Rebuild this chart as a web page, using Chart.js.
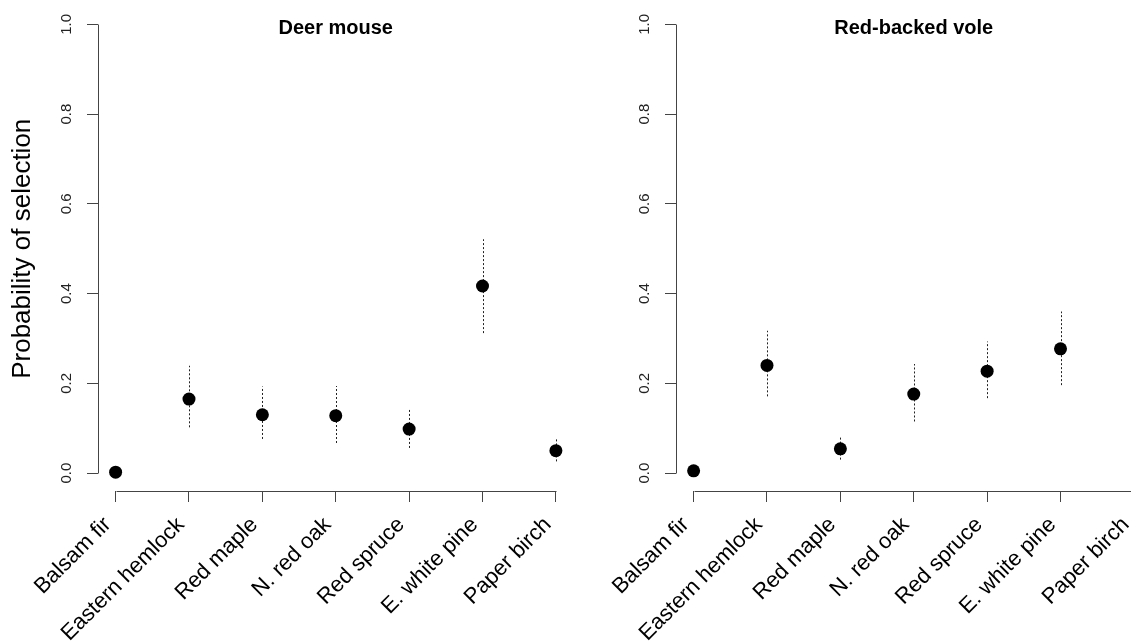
<!DOCTYPE html>
<html>
<head>
<meta charset="utf-8">
<script src="https://cdn.jsdelivr.net/npm/chart.js@4.4.1/dist/chart.umd.min.js"></script>
<style>
  body { margin: 0; background: #fff; overflow: hidden; width: 1131px; height: 642px; }
  canvas { position: absolute; top: 0; }
  #mouseChart { left: 0; }
  #voleChart { left: 578px; }
</style>
</head>
<body>
<canvas id="mouseChart" width="580" height="642"></canvas>
<canvas id="voleChart" width="580" height="642"></canvas>
<script>
const categories = ['Balsam fir', 'Eastern hemlock', 'Red maple', 'N. red oak', 'Red spruce', 'E. white pine', 'Paper birch'];
const yTicks = [0, 0.2, 0.4, 0.6, 0.8, 1.0];

// Deer mouse: estimate with lower / upper limits
const mouseEst = [0.002, 0.165, 0.130, 0.128, 0.098, 0.417, 0.050];
const mouseLow = [null, 0.102, 0.076, 0.067, 0.056, 0.312, 0.026];
const mouseHigh = [null, 0.239, 0.193, 0.194, 0.145, 0.521, 0.078];

// Red-backed vole (no paper birch estimate)
const voleEst = [0.005, 0.240, 0.054, 0.176, 0.227, 0.277, null];
const voleLow = [null, 0.171, 0.030, 0.115, 0.167, 0.196, null];
const voleHigh = [null, 0.317, 0.080, 0.243, 0.293, 0.360, null];

const FONT = '"Liberation Sans", Arial, Helvetica, sans-serif';

// R-style axes: line only spans first to last tick
const axisLines = {
    id: 'axisLines',
    afterDraw(chart) {
        const { ctx, chartArea, scales: { x, y } } = chart;
        const xl = Math.round(chartArea.left) + 0.5;
        const yb = Math.round(chartArea.bottom) + 0.5;
        ctx.save();
        ctx.strokeStyle = '#444';
        ctx.lineWidth = 1;
        ctx.beginPath();
        ctx.moveTo(xl, Math.round(y.getPixelForValue(yTicks[0])) + 0.5);
        ctx.lineTo(xl, Math.round(y.getPixelForValue(yTicks[yTicks.length - 1])) + 0.5);
        ctx.moveTo(Math.round(x.getPixelForValue(1)) + 0.5, yb);
        ctx.lineTo(Math.round(x.getPixelForValue(categories.length)) + 0.5, yb);
        ctx.stroke();
        ctx.restore();
    }
};

// dotted interval lines behind the points
const errorBars = {
    id: 'errorBars',
    beforeDatasetsDraw(chart) {
        const { ctx, scales: { x, y } } = chart;
        const ds = chart.data.datasets[0];
        ctx.save();
        ctx.strokeStyle = '#222';
        ctx.lineWidth = 1;
        ctx.setLineDash([2, 2]);
        ds.low.forEach((lo, i) => {
            if (lo === null || ds.high[i] === null) return;
            const px = Math.round(x.getPixelForValue(i + 1)) + 0.5;
            ctx.beginPath();
            ctx.moveTo(px, y.getPixelForValue(lo));
            ctx.lineTo(px, y.getPixelForValue(ds.high[i]));
            ctx.stroke();
        });
        ctx.restore();
    }
};

// panel title sits inside the plot region
const panelTitle = {
    id: 'panelTitle',
    afterDraw(chart) {
        const { ctx, chartArea } = chart;
        ctx.save();
        ctx.fillStyle = '#000';
        ctx.font = 'bold 20px ' + FONT;
        ctx.textAlign = 'center';
        ctx.textBaseline = 'alphabetic';
        ctx.fillText(chart.data.datasets[0].label, (chartArea.left + chartArea.right) / 2, 34);
        ctx.restore();
    }
};

function makeChart(id, title, est, low, high, showYTitle) {
    const points = est.map((v, i) => (v === null ? null : { x: i + 1, y: v })).filter(p => p);
    return new Chart(document.getElementById(id), {
        type: 'scatter',
        data: {
            datasets: [{
                label: title,
                data: points,
                low: low,
                high: high,
                backgroundColor: '#000',
                borderWidth: 0,
                pointRadius: 6.5,
                pointHoverRadius: 6.5
            }]
        },
        options: {
            responsive: false,
            animation: false,
            devicePixelRatio: 1,
            layout: { padding: { top: 6, left: 0, right: 0, bottom: 0 } },
            plugins: {
                legend: { display: false },
                tooltip: { enabled: false },
                title: { display: false }
            },
            scales: {
                x: {
                    type: 'linear',
                    min: 1 - 0.24,
                    max: categories.length + 0.24,
                    afterBuildTicks: s => { s.ticks = categories.map((c, i) => ({ value: i + 1 })); },
                    afterFit: s => { s.height = 151; s.paddingLeft = 0; s.paddingRight = 0; },
                    border: { display: false },
                    grid: { drawOnChartArea: false, drawTicks: true, tickLength: 11, color: '#444', lineWidth: 1 },
                    ticks: {
                        autoSkip: false,
                        minRotation: 45,
                        maxRotation: 45,
                        padding: 10,
                        labelOffset: -8,
                        color: '#000',
                        font: { family: FONT, size: 22 },
                        callback: v => categories[v - 1]
                    }
                },
                y: {
                    type: 'linear',
                    min: -0.04,
                    max: 1.04,
                    afterBuildTicks: s => { s.ticks = yTicks.map(v => ({ value: v })); },
                    afterFit: s => { s.width = 98; s.paddingTop = 0; s.paddingBottom = 0; },
                    border: { display: false },
                    grid: { drawOnChartArea: false, drawTicks: true, tickLength: 11, color: '#444', lineWidth: 1 },
                    ticks: {
                        minRotation: 90,
                        maxRotation: 90,
                        crossAlign: 'center',
                        padding: 10,
                        color: '#222',
                        font: { family: FONT, size: 15 },
                        callback: v => v.toFixed(1)
                    },
                    title: {
                        display: showYTitle,
                        text: 'Probability of selection',
                        color: '#000',
                        font: { family: FONT, size: 26 },
                        padding: { top: 7, bottom: 0 }
                    }
                }
            }
        },
        plugins: [errorBars, axisLines, panelTitle]
    });
}

makeChart('mouseChart', 'Deer mouse', mouseEst, mouseLow, mouseHigh, true);
makeChart('voleChart', 'Red-backed vole', voleEst, voleLow, voleHigh, false);
</script>
</body>
</html>
